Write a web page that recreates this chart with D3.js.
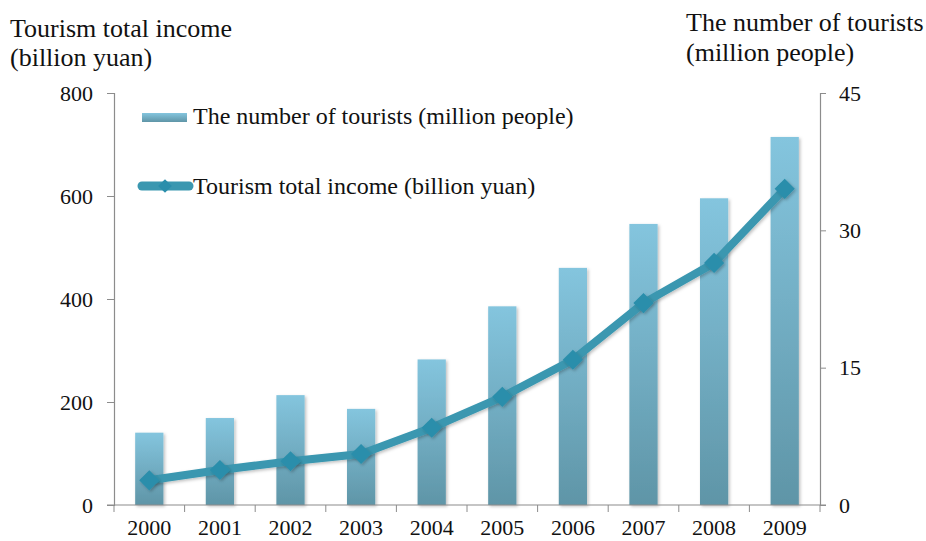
<!DOCTYPE html>
<html>
<head>
<meta charset="utf-8">
<script src="https://cdn.jsdelivr.net/npm/d3@7"></script>
<style>
  body { margin: 0; background: #fff; }
  svg text { font-family: "Liberation Serif", "Times New Roman", serif; fill: #111; }
</style>
</head>
<body>
<div id="chart"></div>
<script>
var years = ["2000", "2001", "2002", "2003", "2004", "2005", "2006", "2007", "2008", "2009"];
// number of tourists, million people (bars, right axis)
var tourists = [7.9, 9.5, 12.0, 10.5, 15.9, 21.7, 25.9, 30.7, 33.5, 40.2];
// tourism total income, billion yuan (line, left axis)
var income = [48, 68, 85, 99, 150, 210, 282, 392, 470, 614];
var leftTicks = [0, 200, 400, 600, 800];
var rightTicks = [0, 15, 30, 45];

var width = 926, height = 541;
var margin = { left: 114, right: 106, top: 93, bottom: 36 };
var axisColor = "#8c8c8c";
var serif = "'Liberation Serif', 'Times New Roman', serif";

var svg = d3.select("#chart").append("svg")
    .attr("width", width)
    .attr("height", height);

var defs = svg.append("defs");
var grad = defs.append("linearGradient")
    .attr("id", "barGrad")
    .attr("x1", 0).attr("y1", 0).attr("x2", 0).attr("y2", 1);
grad.append("stop").attr("offset", "0%").attr("stop-color", "#84c5de");
grad.append("stop").attr("offset", "100%").attr("stop-color", "#5f95a7");

var shadow = defs.append("filter").attr("id", "shadow")
    .attr("x", "-30%").attr("y", "-30%").attr("width", "160%").attr("height", "160%");
shadow.append("feDropShadow")
    .attr("dx", 1.5).attr("dy", 1.5).attr("stdDeviation", 1.5)
    .attr("flood-color", "#000").attr("flood-opacity", 0.25);

var x = d3.scaleBand()
    .domain(years)
    .range([margin.left, width - margin.right])
    .paddingInner(0.6)
    .paddingOuter(0.3);
var xBand = d3.scaleBand()
    .domain(years)
    .range([margin.left, width - margin.right]);

var yLeft = d3.scaleLinear().domain([0, 800]).range([height - margin.bottom, margin.top]);
var yRight = d3.scaleLinear().domain([0, 45]).range([height - margin.bottom, margin.top]);

// bars
svg.append("g")
    .attr("class", "bars")
    .selectAll("rect")
    .data(tourists)
    .enter()
    .append("rect")
    .attr("x", function (d, i) { return x(years[i]); })
    .attr("width", x.bandwidth())
    .attr("y", function (d) { return yRight(d); })
    .attr("height", function (d) { return yRight(0) - yRight(d); })
    .attr("fill", "url(#barGrad)")
    .attr("filter", "url(#shadow)");

// axes
var gLeft = svg.append("g")
    .attr("transform", "translate(" + margin.left + ",0)")
    .call(d3.axisLeft(yLeft).tickValues(leftTicks).tickSize(7).tickPadding(14));
var gRight = svg.append("g")
    .attr("transform", "translate(" + (width - margin.right) + ",0)")
    .call(d3.axisRight(yRight).tickValues(rightTicks).tickSize(6).tickPadding(13));
var gBottom = svg.append("g")
    .attr("transform", "translate(0," + yLeft(0) + ")")
    .call(d3.axisBottom(xBand).tickSize(0).tickPadding(14));

// category boundary ticks on the x axis
svg.append("g")
    .selectAll("line")
    .data(years.concat(["end"]))
    .enter()
    .append("line")
    .attr("x1", function (d, i) { return margin.left + i * xBand.step(); })
    .attr("x2", function (d, i) { return margin.left + i * xBand.step(); })
    .attr("y1", yLeft(0))
    .attr("y2", yLeft(0) + 7)
    .attr("stroke", axisColor);

[gLeft, gRight, gBottom].forEach(function (g) {
    g.attr("font-family", serif).attr("font-size", 22);
    g.selectAll("path.domain").attr("stroke", axisColor).attr("stroke-width", 1.2);
    g.selectAll(".tick line").attr("stroke", axisColor);
    g.selectAll("text")
        .style("font-family", serif)
        .style("font-size", "22px")
        .attr("fill", "#111");
});
gBottom.select("path.domain").attr("d", "M" + (margin.left - 7) + ",0H" + (width - margin.right + 6));

// income line
var line = d3.line()
    .x(function (d, i) { return xBand(years[i]) + xBand.bandwidth() / 2; })
    .y(function (d) { return yLeft(d); });

svg.append("path")
    .datum(income)
    .attr("d", line)
    .attr("fill", "none")
    .attr("stroke", "#3a97b0")
    .attr("stroke-width", 8)
    .attr("stroke-linejoin", "round")
    .attr("filter", "url(#shadow)");

var diamond = d3.symbol().type(d3.symbolDiamond2).size(260);
svg.append("g")
    .selectAll("path")
    .data(income)
    .enter()
    .append("path")
    .attr("d", diamond)
    .attr("transform", function (d, i) {
        return "translate(" + (xBand(years[i]) + xBand.bandwidth() / 2) + "," + yLeft(d) + ")";
    })
    .attr("fill", "#2a8eab")
    .attr("filter", "url(#shadow)");

// axis titles
var leftTitle = svg.append("text")
    .style("font-family", serif)
    .style("font-size", "26px");
leftTitle.append("tspan").attr("x", 10).attr("y", 37).text("Tourism total income");
leftTitle.append("tspan").attr("x", 10).attr("y", 66).text("(billion yuan)");

var rightTitle = svg.append("text")
    .style("font-family", serif)
    .style("font-size", "26px");
rightTitle.append("tspan").attr("x", 686).attr("y", 31).text("The number of tourists");
rightTitle.append("tspan").attr("x", 686).attr("y", 61).text("(million people)");

// legend
var legend = svg.append("g").attr("class", "legend");
legend.append("rect")
    .attr("x", 142).attr("y", 113)
    .attr("width", 45).attr("height", 9)
    .attr("fill", "url(#barGrad)");
legend.append("text")
    .attr("x", 193).attr("y", 124)
    .style("font-family", serif)
    .style("font-size", "24px")
    .text("The number of tourists (million people)");
legend.append("line")
    .attr("x1", 142).attr("x2", 189)
    .attr("y1", 186).attr("y2", 186)
    .attr("stroke", "#3a97b0")
    .attr("stroke-width", 9)
    .attr("stroke-linecap", "round");
legend.append("path")
    .attr("d", d3.symbol().type(d3.symbolDiamond2).size(120))
    .attr("transform", "translate(165,186)")
    .attr("fill", "#2a8eab");
legend.append("text")
    .attr("x", 193).attr("y", 194)
    .style("font-family", serif)
    .style("font-size", "24px")
    .text("Tourism total income (billion yuan)");
</script>
</body>
</html>
